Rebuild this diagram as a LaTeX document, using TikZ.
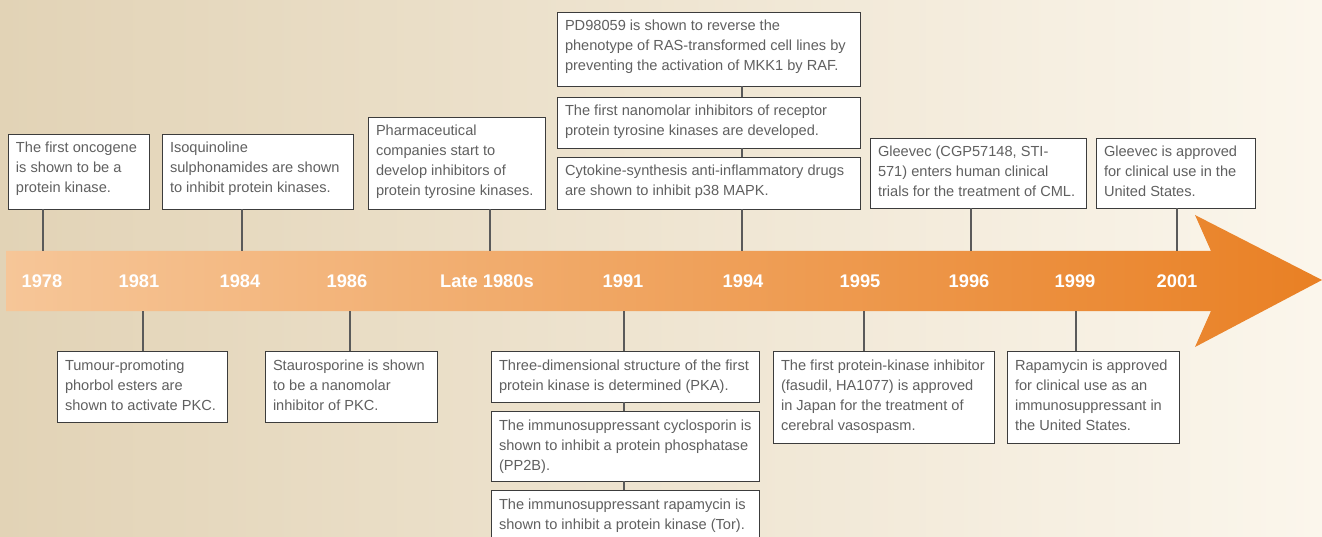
\documentclass[tikz,border=0pt]{standalone}
\usepackage{fontspec}
\setmainfont{Liberation Sans}
\usetikzlibrary{calc}
\definecolor{bgL}{RGB}{226,211,182}
\definecolor{bgR}{RGB}{251,246,236}
\definecolor{bandL}{RGB}{246,198,152}
\definecolor{bandM}{RGB}{241,164,98}
\definecolor{bandR}{RGB}{233,128,36}
\definecolor{txt}{RGB}{96,96,96}
\definecolor{edge}{RGB}{60,60,60}
\definecolor{conncol}{RGB}{90,90,90}
\newcommand{\bxt}[3]{\parbox[b][#2pt][t]{#1pt}{\leftskip=8pt\rightskip=0pt plus 1fil\parfillskip=0pt plus 1fil\rule{0pt}{19pt}#3}}
\tikzset{
  evbox/.style={draw=edge, line width=0.9pt, fill=white, anchor=north west, inner sep=0pt, outer sep=0pt,
    font=\fontsize{14.6}{20}\selectfont, text=txt},
  yearlbl/.style={font=\fontsize{18.3}{20}\selectfont\bfseries, text=white, inner sep=0pt},
  conn/.style={draw=conncol, line width=1.1pt}
}
\begin{document}
\begin{tikzpicture}[x=1pt,y=-1pt]
\useasboundingbox (0,0) rectangle (1322,537);
\clip (0,0) rectangle (1322,537);
\shade[left color=bgL, right color=bgR] (0,0) rectangle (1322,537);
% band arrow
\shade[left color=bandL, middle color=bandM, right color=bandR]
  (6,251) -- (1211,251) -- (1195,215) -- (1322,280) -- (1195,347) -- (1211,311) -- (6,311) -- cycle;
% year labels
\node[yearlbl] (y1978) at (42,281) {1978};
\node[yearlbl] (y1981) at (139,281) {1981};
\node[yearlbl] (y1984) at (240,281) {1984};
\node[yearlbl] (y1986) at (347,281) {1986};
\node[yearlbl] (y1980s) at (487,281) {Late 1980s};
\node[yearlbl] (y1991) at (623,281) {1991};
\node[yearlbl] (y1994) at (743,281) {1994};
\node[yearlbl] (y1995) at (860,281) {1995};
\node[yearlbl] (y1996) at (969,281) {1996};
\node[yearlbl] (y1999) at (1075,281) {1999};
\node[yearlbl] (y2001) at (1177,281) {2001};
% anchor points on the band
\coordinate (p1978) at (43,251);
\coordinate (p1984) at (242,251);
\coordinate (p1980s) at (490,251);
\coordinate (p1994) at (742,251);
\coordinate (p1996) at (971,251);
\coordinate (p2001) at (1177,251);
\coordinate (p1981) at (143,311);
\coordinate (p1986) at (350,311);
\coordinate (p1991) at (624,311);
\coordinate (p1995) at (864,311);
\coordinate (p1999) at (1076,311);
% top boxes
\node[evbox] (t1978) at (8,134) {\bxt{141}{75}{The first oncogene\\is shown to be a\\protein kinase.}};
\node[evbox] (t1984) at (162,134) {\bxt{191}{75}{Isoquinoline\\sulphonamides are shown\\to inhibit protein kinases.}};
\node[evbox] (t1980s) at (368,117) {\bxt{177}{92}{Pharmaceutical\\companies start to\\develop inhibitors of\\protein tyrosine kinases.}};
\node[evbox] (t1994a) at (557,12) {\bxt{303}{74}{PD98059 is shown to reverse the\\phenotype of RAS-transformed cell lines by\\preventing the activation of MKK1 by RAF.}};
\node[evbox] (t1994b) at (557,97) {\bxt{303}{51}{The first nanomolar inhibitors of receptor\\protein tyrosine kinases are developed.}};
\node[evbox] (t1994c) at (557,157) {\bxt{303}{52}{Cytokine-synthesis anti-inflammatory drugs\\are shown to inhibit p38 MAPK.}};
\node[evbox] (t1996) at (870,138) {\bxt{216}{70}{Gleevec (CGP57148, STI-\\571) enters human clinical\\trials for the treatment of CML.}};
\node[evbox] (t2001) at (1096,138) {\bxt{159}{70}{Gleevec is approved\\for clinical use in the\\United States.}};
% bottom boxes
\node[evbox] (b1981) at (57,351) {\bxt{170}{71}{Tumour-promoting\\phorbol esters are\\shown to activate PKC.}};
\node[evbox] (b1986) at (265,351) {\bxt{172}{71}{Staurosporine is shown\\to be a nanomolar\\inhibitor of PKC.}};
\node[evbox] (b1991a) at (491,351) {\bxt{268}{51}{Three-dimensional structure of the first\\protein kinase is determined (PKA).}};
\node[evbox] (b1991b) at (491,411) {\bxt{268}{70}{The immunosuppressant cyclosporin is\\shown to inhibit a protein phosphatase\\(PP2B).}};
\node[evbox] (b1991c) at (491,490) {\bxt{268}{70}{The immunosuppressant rapamycin is\\shown to inhibit a protein kinase (Tor).}};
\node[evbox] (b1995) at (773,351) {\bxt{221}{92}{The first protein-kinase inhibitor\\(fasudil, HA1077) is approved\\in Japan for the treatment of\\cerebral vasospasm.}};
\node[evbox] (b1999) at (1007,351) {\bxt{172}{92}{Rapamycin is approved\\for clinical use as an\\immunosuppressant in\\the United States.}};
% connectors
\draw[conn] (p1978) -- (p1978 |- t1978.south);
\draw[conn] (p1984) -- (p1984 |- t1984.south);
\draw[conn] (p1980s) -- (p1980s |- t1980s.south);
\draw[conn] (p1994) -- (p1994 |- t1994c.south);
\draw[conn] (p1994 |- t1994c.north) -- (p1994 |- t1994b.south);
\draw[conn] (p1994 |- t1994b.north) -- (p1994 |- t1994a.south);
\draw[conn] (p1996) -- (p1996 |- t1996.south);
\draw[conn] (p2001) -- (p2001 |- t2001.south);
\draw[conn] (p1981) -- (p1981 |- b1981.north);
\draw[conn] (p1986) -- (p1986 |- b1986.north);
\draw[conn] (p1991) -- (p1991 |- b1991a.north);
\draw[conn] (p1991 |- b1991a.south) -- (p1991 |- b1991b.north);
\draw[conn] (p1991 |- b1991b.south) -- (p1991 |- b1991c.north);
\draw[conn] (p1995) -- (p1995 |- b1995.north);
\draw[conn] (p1999) -- (p1999 |- b1999.north);
\end{tikzpicture}
\end{document}
